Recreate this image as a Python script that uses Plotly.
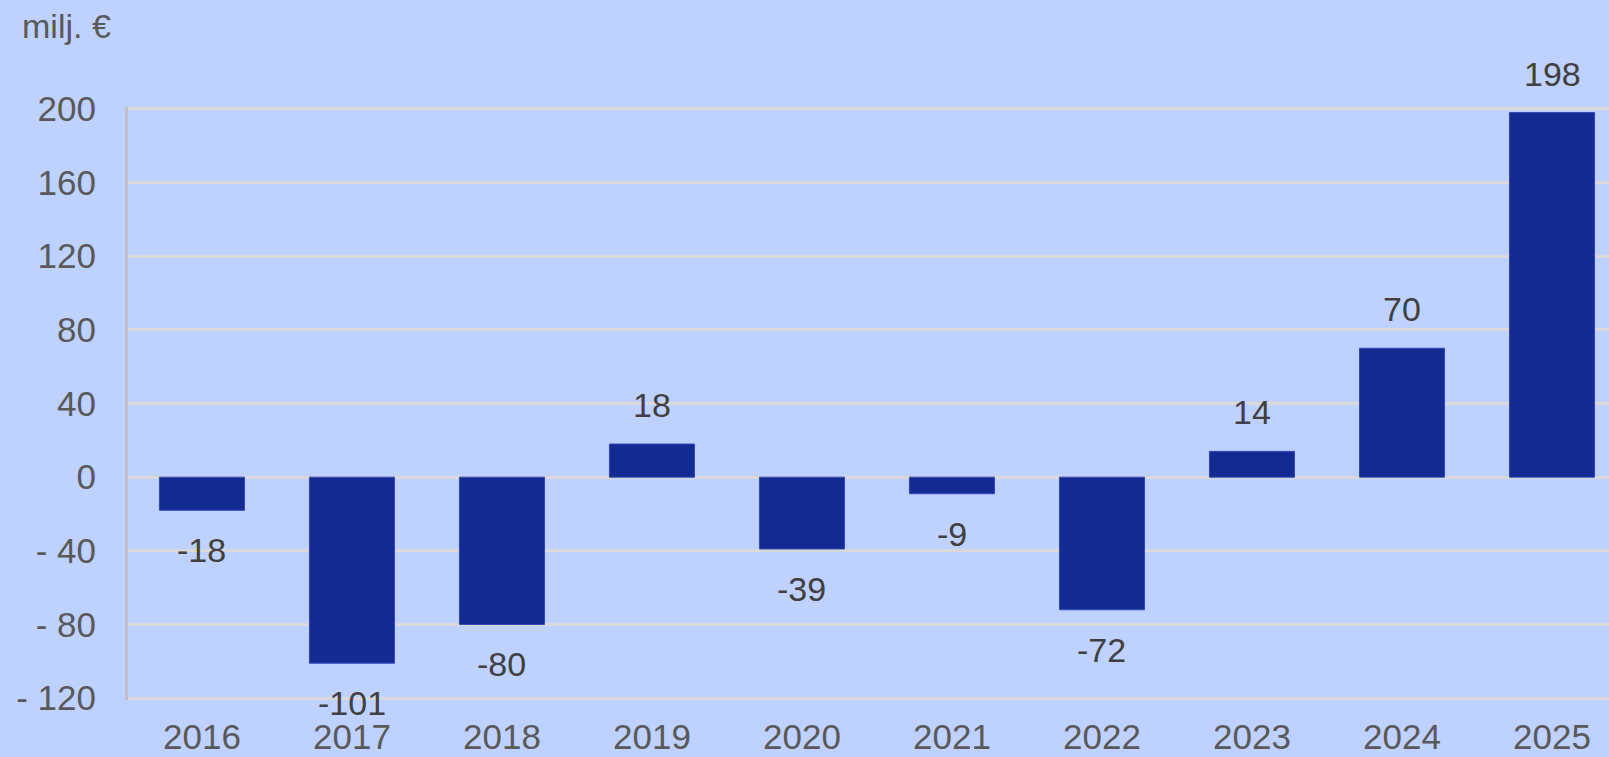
import plotly.graph_objects as go

years = ["2016", "2017", "2018", "2019", "2020", "2021", "2022", "2023", "2024", "2025"]
values = [-18, -101, -80, 18, -39, -9, -72, 14, 70, 198]
y_ticks = [-120, -80, -40, 0, 40, 80, 120, 160, 200]
y_tick_text = ["- 120", "- 80", "- 40", "0", "40", "80", "120", "160", "200"]
unit_label = "milj. €"

BG = "#BFD1FE"
BAR = "#142A93"
FONT = "Liberation Sans, Arial, sans-serif"

fig = go.Figure()
fig.add_trace(go.Bar(
    x=years, y=values,
    marker=dict(color=BAR, line=dict(color="#3048B8", width=1)),
    width=0.567,
    hoverinfo="x+y",
))

for i, v in enumerate(values):
    fig.add_annotation(
        x=i, y=v, xref="x", yref="y",
        text=str(v), showarrow=False,
        yshift=39 if v > 0 else -40,
        font=dict(family=FONT, size=34, color="#404040"),
        xanchor="center", yanchor="middle",
    )

fig.update_layout(
    width=1609, height=757,
    paper_bgcolor=BG, plot_bgcolor=BG,
    margin=dict(l=128, r=0, t=107, b=57),
    showlegend=False,
    bargap=0.43,
    title=dict(
        text=unit_label, xref="container", yref="container",
        x=22 / 1609, y=1 - 26 / 757, xanchor="left", yanchor="middle",
        font=dict(family=FONT, size=34, color="#595959"),
    ),
)

fig.update_xaxes(
    type="category",
    range=[-0.493, 9.38],
    showgrid=False, zeroline=False, showline=False,
    ticks="", ticklabelstandoff=13,
    tickfont=dict(family=FONT, size=35, color="#595959"),
)

fig.update_yaxes(
    range=[-121, 201],
    tickvals=y_ticks, ticktext=y_tick_text,
    showgrid=True, gridcolor="#D9D9D9", gridwidth=2.5,
    zeroline=False,
    showline=True, linecolor="#C0C0C0", linewidth=3,
    ticks="", ticklabelstandoff=22,
    tickfont=dict(family=FONT, size=35, color="#595959"),
)

fig.write_html(
    "out.html",
    config={"displayModeBar": False},
    post_script="document.body.style.margin='0';document.body.style.overflow='hidden';",
)
